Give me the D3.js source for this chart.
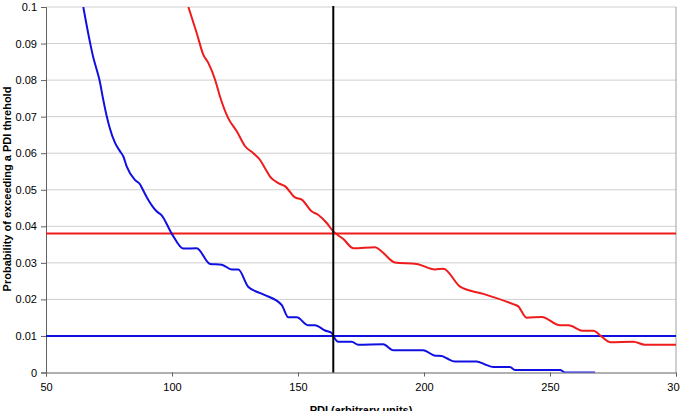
<!DOCTYPE html>
<html><head><meta charset="utf-8">
<script src="https://cdn.jsdelivr.net/npm/d3@7"></script>
<style>
html,body{margin:0;padding:0;background:#fff;overflow:hidden}
text{font-family:"Liberation Sans",Arial,sans-serif;fill:#000}
</style></head>
<body><svg id="chart" width="680" height="411"></svg>
<script>
const xTicks = [50, 100, 150, 200, 250, 300];
const yTicks = [0, 0.01, 0.02, 0.03, 0.04, 0.05, 0.06, 0.07, 0.08, 0.09, 0.1];
const yTickLabels = ["0", "0.01", "0.02", "0.03", "0.04", "0.05", "0.06", "0.07", "0.08", "0.09", "0.1"];

const blueX = [64.8, 67.5, 68.8, 70.1, 71.2, 72.7, 74.1, 75.1, 77.4, 79.4, 80.7, 82.0, 85.3, 87.3, 88.0, 90.2,
  93.9, 95.9, 99.9, 104.5, 109.8, 115.1, 119.7, 123.7, 126.3, 130.3, 136.2, 143.5, 146.2, 149.5, 154.1, 156.7,
  160.7, 163.4, 164.0, 166.0, 171.3, 173.9, 183.8, 187.8, 199.7, 204.4, 207.0, 209.0, 212.3, 220.9, 224.2,
  227.5, 234.1, 236.1, 254.0, 256.0, 267.9];
const blueY = [0.1, 0.0902, 0.0861, 0.0829, 0.0801, 0.0747, 0.0701, 0.0674, 0.0628, 0.0605, 0.0591, 0.0564, 0.0527, 0.0515, 0.0506, 0.0477,
  0.0441, 0.0430, 0.0380, 0.0339, 0.0340, 0.0297, 0.0295, 0.0282, 0.0282, 0.0234, 0.0214, 0.0185, 0.0151, 0.0151, 0.0129, 0.0129,
  0.0115, 0.0108, 0.0100, 0.0084, 0.0084, 0.0076, 0.0077, 0.0061, 0.0061, 0.0046, 0.0045, 0.0039, 0.0030, 0.0030, 0.0022,
  0.0015, 0.0015, 0.0007, 0.0007, 0.0, 0.0];

const redX = [106.5, 109.8, 112.4, 114.4, 117.1, 119.0, 122.3, 125.7, 129.0, 132.3, 134.9, 136.9, 138.9, 142.2, 144.8,
  148.8, 151.5, 155.4, 158.1, 161.4, 164.0, 168.0, 172.0, 180.6, 183.2, 188.5, 197.1, 204.4, 207.7, 214.3, 223.5,
  235.4, 237.4, 240.7, 246.7, 254.0, 257.3, 263.2, 267.2, 270.5, 273.8, 283.1, 287.7, 300];
const redY = [0.1, 0.0929, 0.0870, 0.0847, 0.0801, 0.0756, 0.0696, 0.0660, 0.0619, 0.0600, 0.0582, 0.0559, 0.0536, 0.0518, 0.0510,
  0.0479, 0.0473, 0.0441, 0.0431, 0.0409, 0.0386, 0.0365, 0.0340, 0.0343, 0.0331, 0.0301, 0.0297, 0.0282, 0.0284, 0.0235, 0.0215,
  0.0187, 0.0181, 0.0150, 0.0152, 0.0129, 0.0129, 0.0114, 0.0114, 0.0098, 0.0083, 0.0084, 0.0076, 0.0076];

const redThreshold = 0.038;
const blueThreshold = 0.01;
const pdiThreshold = 164;

const xTitle = "PDI (arbitrary units)";
const yTitle = "Probability of exceeding a PDI threhold";

const W = 680, H = 411;
const m = {left: 46, right: 4, top: 7, bottom: 38.5};
const svg = d3.select("#chart");
const x = d3.scaleLinear().domain([50, 300]).range([m.left, W - m.right]);
const y = d3.scaleLinear().domain([0, 0.1]).range([H - m.bottom, m.top]);

svg.append("defs").append("clipPath").attr("id", "clip")
  .append("rect").attr("x", m.left).attr("y", m.top)
  .attr("width", W - m.left - m.right).attr("height", H - m.top - m.bottom);

// gridlines
svg.append("g").selectAll("line").data(yTicks.slice(1)).join("line")
  .attr("x1", m.left).attr("x2", W - m.right)
  .attr("y1", d => y(d)).attr("y2", d => y(d))
  .attr("stroke", "#cfcfcf").attr("stroke-width", 1);
// right border
svg.append("line").attr("x1", W - m.right).attr("x2", W - m.right)
  .attr("y1", m.top).attr("y2", H - m.bottom).attr("stroke", "#a0a0a0");

// axes
const yAxis = svg.append("g").attr("transform", `translate(${m.left},0)`)
  .call(d3.axisLeft(y).tickValues(yTicks).tickFormat((d, i) => yTickLabels[i]).tickSize(5).tickPadding(4));
const xAxis = svg.append("g").attr("transform", `translate(0,${H - m.bottom})`)
  .call(d3.axisBottom(x).tickValues(xTicks).tickFormat(d3.format("d")).tickSize(4).tickPadding(7));
[yAxis, xAxis].forEach(g => {
  g.select(".domain").attr("stroke", "#606060");
  g.selectAll(".tick line").attr("stroke", "#606060");
  g.selectAll("text").attr("font-size", 11).attr("font-family", "Liberation Sans, Arial, sans-serif").attr("fill", "#000");
});

const plot = svg.append("g").attr("clip-path", "url(#clip)");

const line = d3.line().x(d => x(d[0])).y(d => y(d[1])).curve(d3.curveMonotoneX);
const blueData = blueX.map((v, i) => [v, blueY[i]]);
const redData = redX.map((v, i) => [v, redY[i]]);

// threshold lines
plot.append("line").attr("x1", x(50)).attr("x2", x(300))
  .attr("y1", y(redThreshold)).attr("y2", y(redThreshold))
  .attr("stroke", "#ee1c1c").attr("stroke-width", 2);
plot.append("line").attr("x1", x(50)).attr("x2", x(300))
  .attr("y1", y(blueThreshold)).attr("y2", y(blueThreshold))
  .attr("stroke", "#1010e0").attr("stroke-width", 2);

plot.append("path").datum(blueData).attr("d", line)
  .attr("fill", "none").attr("stroke", "#1010e0").attr("stroke-width", 2);
plot.append("path").datum(redData).attr("d", line)
  .attr("fill", "none").attr("stroke", "#ee1c1c").attr("stroke-width", 2);

svg.append("line").attr("x1", x(pdiThreshold)).attr("x2", x(pdiThreshold))
  .attr("y1", y(0.1) - 1).attr("y2", y(0))
  .attr("stroke", "#000").attr("stroke-width", 2);

// titles
svg.append("text").attr("x", (m.left + W - m.right) / 2).attr("y", 414)
  .attr("text-anchor", "middle").attr("font-size", 11).attr("font-weight", "bold").text(xTitle);
svg.append("text").attr("transform", `translate(11,189) rotate(-90)`)
  .attr("text-anchor", "middle").attr("font-size", 11).attr("font-weight", "bold").text(yTitle);
</script></body></html>
